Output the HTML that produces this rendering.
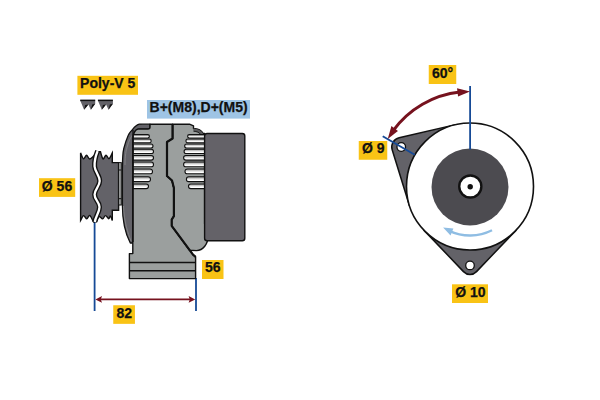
<!DOCTYPE html>
<html><head><meta charset="utf-8">
<style>
html,body{margin:0;padding:0;background:#fff;width:600px;height:400px;overflow:hidden}
svg{display:block}
text{font-family:"Liberation Sans",sans-serif;font-weight:bold;fill:#111}
</style></head>
<body>
<svg width="600" height="400" viewBox="0 0 600 400">
<defs><linearGradient id="fg" x1="0" y1="0" x2="0" y2="1"><stop offset="0" stop-color="#8c8c8c"/><stop offset="0.45" stop-color="#dedede"/><stop offset="0.7" stop-color="#fff"/></linearGradient></defs>
<rect width="600" height="400" fill="#fff"/>
<line x1="94.6" y1="221" x2="94.6" y2="311" stroke="#164a96" stroke-width="1.8"/>
<line x1="196" y1="278" x2="196" y2="311" stroke="#164a96" stroke-width="1.8"/>
<line x1="99" y1="299.4" x2="191" y2="299.4" stroke="#76121e" stroke-width="1.9"/>
<path d="M95.4 299.4 L102 296.1 L100.8 299.4 L102 302.7 Z" fill="#76121e"/>
<path d="M195.2 299.4 L188.6 296.1 L189.8 299.4 L188.6 302.7 Z" fill="#76121e"/>
<path d="M80.6 220.5 L80.6 152.9 C81.08 153.90 82.50 158.52 83.50 158.90 C84.50 159.28 85.50 155.20 86.60 155.20 C87.70 155.20 88.23 159.50 90.10 158.90 C91.97 158.30 96.52 152.82 97.80 151.60 L100.4 151.6 C100.83 152.82 102.07 158.30 103.00 158.90 C103.93 159.50 105.00 155.23 106.00 155.20 C107.00 155.17 107.95 159.08 109.00 158.70 C110.05 158.32 111.75 153.87 112.30 152.90 L112.3 162.6 L118.6 162.6 L118.6 210.3 L112.3 210.3 L112.3 220.6 C111.98 219.83 110.98 216.32 110.40 216.00 C109.82 215.68 109.62 218.77 108.80 218.70 C107.98 218.63 106.53 215.57 105.50 215.60 C104.47 215.63 103.63 218.72 102.60 218.90 C101.57 219.08 100.35 216.22 99.30 216.70 C98.25 217.18 96.80 220.95 96.30 221.80 L93.5 222.0 C92.87 220.90 90.82 215.92 89.70 215.40 C88.58 214.88 87.83 218.87 86.80 218.90 C85.77 218.93 84.53 215.33 83.50 215.60 C82.47 215.87 81.08 219.68 80.60 220.50 Z" fill="#636268" stroke="#111" stroke-width="1.4" stroke-linejoin="miter"/>
<path d="M97.6 151 C95.6 156, 94.3 161, 94.6 166.5 C95 172, 99.8 175.5, 99.7 181 C99.6 186.5, 94.8 189, 94.6 194.5 C94.4 200, 99.5 201.5, 99.5 207 C99.5 212.5, 95.5 216, 94.8 222" fill="none" stroke="#111" stroke-width="5"/>
<path d="M97.6 151 C95.6 156, 94.3 161, 94.6 166.5 C95 172, 99.8 175.5, 99.7 181 C99.6 186.5, 94.8 189, 94.6 194.5 C94.4 200, 99.5 201.5, 99.5 207 C99.5 212.5, 95.5 216, 94.8 222" fill="none" stroke="#fff" stroke-width="2.3"/>
<rect x="118.6" y="162.6" width="2.7" height="42.4" fill="#a4a6a6" stroke="#111" stroke-width="1"/>
<line x1="118.6" y1="170" x2="121.3" y2="170" stroke="#111" stroke-width="1"/>
<line x1="118.6" y1="198.7" x2="121.3" y2="198.7" stroke="#111" stroke-width="1"/>
<path d="M122.4 205 L122.4 170 C122.45 168.00 122.47 161.58 122.70 158.00 C122.93 154.42 122.87 152.30 123.80 148.50 C124.73 144.70 126.90 138.32 128.30 135.20 C129.70 132.08 130.83 131.40 132.20 129.80 C133.57 128.20 135.28 126.53 136.50 125.60 C137.72 124.67 138.58 124.43 139.50 124.20 C140.42 123.97 141.58 124.20 142.00 124.20 L150 124.2 L150 127 C150 128.5, 149.3 129.2, 148 129.2 L140 129.2 C136 129.3, 133 134, 132.8 142 L132.8 243 L130.3 243 C125.5 234, 122.4 222, 122.4 205 Z" fill="#636268" stroke="#111" stroke-width="1.3" stroke-linejoin="round"/>
<path d="M125 165 C125 156, 126 150, 127.5 146 C128.5 141, 130.5 137.5, 134 133" fill="none" stroke="#8a8a8c" stroke-width="0.8"/>
<path d="M123.5 206 C124 222, 128 233, 131 241" fill="none" stroke="#8a8a8c" stroke-width="0.8"/>
<path d="M132.8 138 C133.5 133, 135 129.5, 138 129 L148 129 C149.3 129, 150 128.5, 150 127 L150 124.2 L172.6 124.2 L172.6 138.5 L167 142 L167 176 L172 180.5 L173.9 188 L173.9 216.2 L171.7 219.6 L171.7 225.8 L193 254.7 L195.6 256.8 L195.6 278.6 L129.4 278.6 L129.4 253.6 L132.8 253.6 Z" fill="#9b9f9e" stroke="#111" stroke-width="1.4" stroke-linejoin="round"/>
<line x1="129.4" y1="262.4" x2="195.6" y2="262.4" stroke="#111" stroke-width="1.5"/>
<line x1="129.4" y1="270.7" x2="195.6" y2="270.7" stroke="#111" stroke-width="1.5"/>
<path d="M172.6 124.2 L189.5 124.2 L193.5 125.8 L193.5 128.5 C198 128.8, 201.5 130.5, 203.2 133.5 L204.6 133.5 L204.6 223.7 C206.5 227, 208.1 231, 208.1 236 C208.1 244, 203 250.6, 196.5 250.6 L189.6 250.3 L171.7 225.8 L171.7 219.6 L173.9 216.2 L173.9 188 L172 180.5 L167 176 L167 142 L172.6 138.5 Z" fill="#9b9f9e" stroke="#111" stroke-width="1.4" stroke-linejoin="round"/>
<path d="M193.5 128.5 C198 128.8, 201.5 130.5, 203.2 133.5 L200.3 134.2 C199.3 132.6, 197 131.4, 193.5 131.2 Z" fill="#5a5a5c"/>
<path d="M193.5 131.2 C197 131.4, 199.3 132.6, 200.3 134.2" fill="none" stroke="#111" stroke-width="0.9"/>
<path d="M172.6 124.2 L172.6 124.2 L172.6 138.5 L167 142 L167 176 L172 180.5 L173.9 188 L173.9 216.2 L171.7 219.6 L171.7 225.8 L193 254.7 L195.6 256.8" fill="none" stroke="#111" stroke-width="2.2" stroke-linejoin="round"/>
<path d="M133.2 134.60 L147.70 134.60 A1.7 1.7 0 0 1 147.70 138.00 L133.2 138.00 Z" fill="url(#fg)" stroke="#111" stroke-width="1.1"/>
<path d="M133.2 139.05 L149.35 139.05 A1.85 1.85 0 0 1 149.35 142.75 L133.2 142.75 Z" fill="url(#fg)" stroke="#111" stroke-width="1.1"/>
<path d="M133.2 144.00 L151.00 144.00 A2.0 2.0 0 0 1 151.00 148.00 L133.2 148.00 Z" fill="url(#fg)" stroke="#111" stroke-width="1.1"/>
<path d="M133.2 149.25 L151.35 149.25 A2.15 2.15 0 0 1 151.35 153.55 L133.2 153.55 Z" fill="url(#fg)" stroke="#111" stroke-width="1.1"/>
<path d="M133.2 155.50 L151.20 155.50 A2.3 2.3 0 0 1 151.20 160.10 L133.2 160.10 Z" fill="url(#fg)" stroke="#111" stroke-width="1.1"/>
<path d="M133.2 162.00 L151.10 162.00 A2.4 2.4 0 0 1 151.10 166.80 L133.2 166.80 Z" fill="url(#fg)" stroke="#111" stroke-width="1.1"/>
<path d="M133.2 169.00 L150.10 169.00 A2.4 2.4 0 0 1 150.10 173.80 L133.2 173.80 Z" fill="url(#fg)" stroke="#111" stroke-width="1.1"/>
<path d="M133.2 176.80 L148.10 176.80 A2.4 2.4 0 0 1 148.10 181.60 L133.2 181.60 Z" fill="url(#fg)" stroke="#111" stroke-width="1.1"/>
<path d="M133.2 184.00 L146.20 184.00 A2.3 2.3 0 0 1 146.20 188.60 L133.2 188.60 Z" fill="url(#fg)" stroke="#111" stroke-width="1.1"/>
<path d="M204.6 134.60 L189.30 134.60 A1.7 1.7 0 0 0 189.30 138.00 L204.6 138.00 Z" fill="url(#fg)" stroke="#111" stroke-width="1.1"/>
<path d="M204.6 139.05 L187.75 139.05 A1.85 1.85 0 0 0 187.75 142.75 L204.6 142.75 Z" fill="url(#fg)" stroke="#111" stroke-width="1.1"/>
<path d="M204.6 144.00 L186.65 144.00 A2.0 2.0 0 0 0 186.65 148.00 L204.6 148.00 Z" fill="url(#fg)" stroke="#111" stroke-width="1.1"/>
<path d="M204.6 149.25 L186.25 149.25 A2.15 2.15 0 0 0 186.25 153.55 L204.6 153.55 Z" fill="url(#fg)" stroke="#111" stroke-width="1.1"/>
<path d="M204.6 155.50 L185.90 155.50 A2.3 2.3 0 0 0 185.90 160.10 L204.6 160.10 Z" fill="url(#fg)" stroke="#111" stroke-width="1.1"/>
<path d="M204.6 162.00 L186.00 162.00 A2.4 2.4 0 0 0 186.00 166.80 L204.6 166.80 Z" fill="url(#fg)" stroke="#111" stroke-width="1.1"/>
<path d="M204.6 169.00 L187.40 169.00 A2.4 2.4 0 0 0 187.40 173.80 L204.6 173.80 Z" fill="url(#fg)" stroke="#111" stroke-width="1.1"/>
<path d="M204.6 176.80 L188.80 176.80 A2.4 2.4 0 0 0 188.80 181.60 L204.6 181.60 Z" fill="url(#fg)" stroke="#111" stroke-width="1.1"/>
<path d="M204.6 184.00 L190.80 184.00 A2.3 2.3 0 0 0 190.80 188.60 L204.6 188.60 Z" fill="url(#fg)" stroke="#111" stroke-width="1.1"/>
<line x1="133" y1="130" x2="133" y2="242" stroke="#111" stroke-width="1.3"/>
<rect x="204.6" y="133.5" width="40.2" height="107.3" rx="2.5" fill="#646268" stroke="#111" stroke-width="1.4"/>
<path d="M80.2 100.6 L95.2 100.6 L95.2 103.8 L90.8 109.8 L88.4 104.6 L84.10000000000001 109.8 Z" fill="#636268"/>
<rect x="80.2" y="99.6" width="15" height="1.5" fill="#111"/>
<path d="M84.10000000000001 109.8 L88.4 104.6 L85.2 104.9 Z" fill="#111"/>
<path d="M90.8 109.8 L95.2 103.8 L92.2 104.4 Z" fill="#111"/>
<path d="M97.9 100.6 L112.9 100.6 L112.9 103.8 L108.5 109.8 L106.10000000000001 104.6 L101.80000000000001 109.8 Z" fill="#636268"/>
<rect x="97.9" y="99.6" width="15" height="1.5" fill="#111"/>
<path d="M101.80000000000001 109.8 L106.10000000000001 104.6 L102.9 104.9 Z" fill="#111"/>
<path d="M108.5 109.8 L112.9 103.8 L109.9 104.4 Z" fill="#111"/>
<path d="M455.67 124.64 L399.11 137.75 A9.5 9.5 0 0 0 392.17 149.81 L409.34 205.27 L470 186.5 Z" fill="#636268" stroke="#111" stroke-width="1.5" stroke-linejoin="round"/>
<path d="M424.08 230.36 L463.49 271.62 A9 9 0 0 0 476.51 271.62 L515.92 230.36 L470 186.5 Z" fill="#636268" stroke="#111" stroke-width="1.5" stroke-linejoin="round"/>
<circle cx="470" cy="186.5" r="63.5" fill="#fff" stroke="#111" stroke-width="1.6"/>
<circle cx="401.25" cy="147" r="4.3" fill="#fff" stroke="#111" stroke-width="1.3"/>
<circle cx="470" cy="265.4" r="4.3" fill="#fff" stroke="#111" stroke-width="1.3"/>
<circle cx="470" cy="187" r="38.5" fill="#4c4b50"/>
<circle cx="470.3" cy="186.5" r="11.05" fill="#fff" stroke="#111" stroke-width="2.4"/>
<circle cx="470.2" cy="186.8" r="2.7" fill="#111"/>
<path d="M492.02 230.28 A49 49 0 0 1 449.20 230.87" fill="none" stroke="#8fbde3" stroke-width="2.4"/>
<path d="M443.10 227.45 L453.36 228.52 L450.56 235.59 Z" fill="#8fbde3"/>
<line x1="470.1" y1="86" x2="470.1" y2="149.5" stroke="#164a96" stroke-width="1.8"/>
<line x1="382.75" y1="136.25" x2="414.75" y2="154.75" stroke="#164a96" stroke-width="1.9"/>
<path d="M460.02 92.03 A95 95 0 0 0 393.17 130.62" fill="none" stroke="#76121e" stroke-width="3.0"/>
<path d="M470.00 91.50 L458.07 96.39 L457.00 88.26 Z" fill="#76121e"/>
<path d="M387.73 139.00 L397.92 131.11 L391.42 126.12 Z" fill="#76121e"/>
<rect x="77.4" y="75.8" width="60.6" height="19" fill="#f9c315"/>
<text x="107.7" y="87.6" font-size="14" text-anchor="middle" stroke="#111" stroke-width="0.25">Poly-V 5</text>
<rect x="147" y="100" width="103" height="18.6" fill="#9ec4e5"/>
<text x="198.6" y="112.0" font-size="14" text-anchor="middle" stroke="#111" stroke-width="0.25">B+(M8),D+(M5)</text>
<rect x="39" y="178.2" width="36.2" height="18.7" fill="#f9c315"/>
<text x="57" y="191.1" font-size="14" text-anchor="middle" stroke="#111" stroke-width="0.25">Ø 56</text>
<rect x="113.25" y="305.25" width="21.7" height="18.6" fill="#f9c315"/>
<text x="124.2" y="317.5" font-size="14" text-anchor="middle" stroke="#111" stroke-width="0.25">82</text>
<rect x="202" y="260" width="21.5" height="19" fill="#f9c315"/>
<text x="212.75" y="272.4" font-size="14" text-anchor="middle" stroke="#111" stroke-width="0.25">56</text>
<rect x="428.75" y="65" width="27.5" height="19" fill="#f9c315"/>
<text x="442.5" y="77.7" font-size="14" text-anchor="middle" stroke="#111" stroke-width="0.25">60°</text>
<rect x="358.75" y="141" width="28.5" height="18.75" fill="#f9c315"/>
<text x="373.3" y="153" font-size="14" text-anchor="middle" stroke="#111" stroke-width="0.25">Ø 9</text>
<rect x="452" y="284.3" width="36" height="18.7" fill="#f9c315"/>
<text x="470.4" y="296.9" font-size="14" text-anchor="middle" stroke="#111" stroke-width="0.25">Ø 10</text>
</svg>
</body></html>
